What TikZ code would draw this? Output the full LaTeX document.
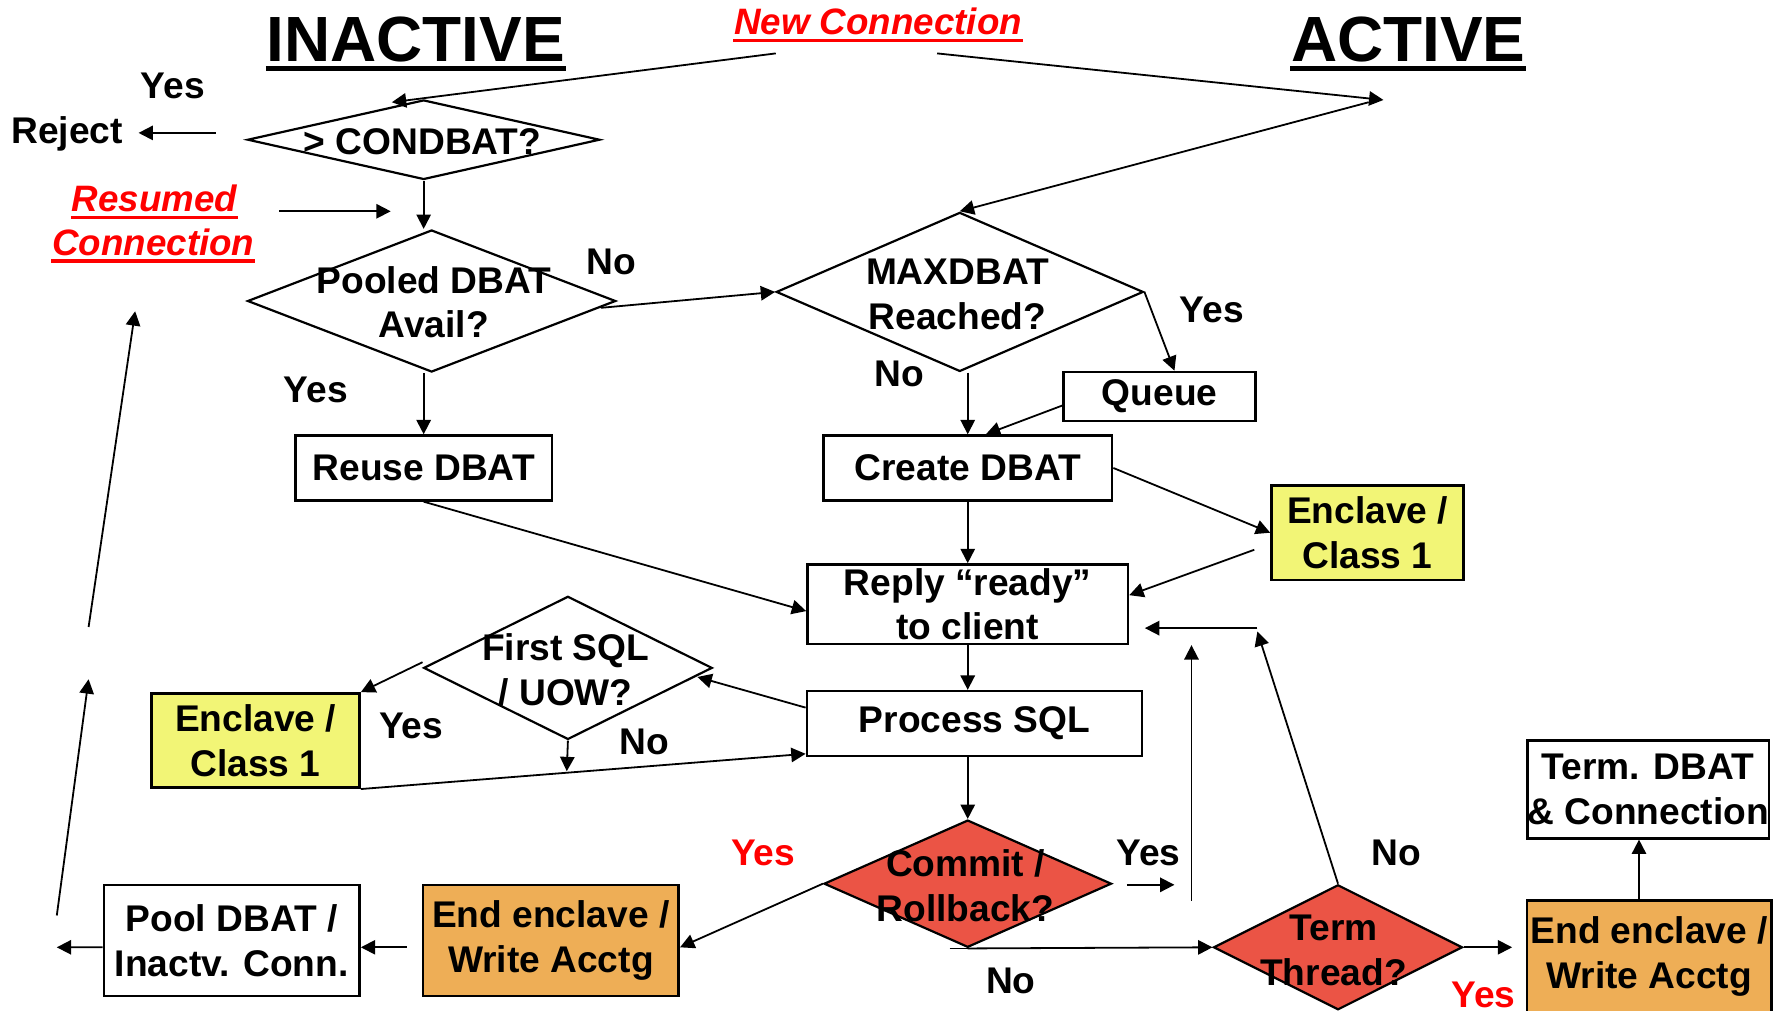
\documentclass[tikz,border=0pt]{standalone}
\usepackage{fontspec}
\setmainfont{Liberation Sans}
\usetikzlibrary{arrows.meta,shapes.geometric}
\definecolor{yel}{RGB}{242,245,118}
\definecolor{org}{RGB}{238,174,86}
\definecolor{dred}{RGB}{235,84,69}
\newcommand\myfont{\bfseries\fontsize{9.3}{11.2}\selectfont}
\tikzset{
  txt/.style={font=\myfont, align=center, inner sep=0pt},
  redtxt/.style={txt, text=red},
  title/.style={font=\bfseries\fontsize{16}{18}\selectfont, inner sep=0pt},
  redital/.style={font=\bfseries\itshape\fontsize{9.2}{11}\selectfont, text=red, inner sep=0pt},
  box/.style={draw, line width=0.65pt, inner sep=0pt, align=center, font=\myfont},
  dia/.style={diamond, draw, line width=0.55pt, inner sep=0pt},
  arr/.style={line width=0.45pt, -{Triangle[length=3.6pt,width=3.6pt]}},
  ln/.style={line width=0.45pt},
}
\begin{document}
\begin{tikzpicture}[x=0.01cm,y=-0.01cm]
\useasboundingbox (0,0) rectangle (1568,890);
\clip (0,0) rectangle (1568,890);
% titles
\node[title] (inactive) at (366,35) {INACTIVE};
\node[title] (active) at (1240,35) {ACTIVE};
\draw[line width=1.4pt] ([yshift=-0.06cm]inactive.base west) -- ([yshift=-0.06cm]inactive.base east);
\draw[line width=1.4pt] ([yshift=-0.06cm]active.base west) -- ([yshift=-0.06cm]active.base east);
\node[redital] (newconn) at (773,19) {New Connection};
\draw[red, line width=0.9pt] ([yshift=-0.05cm]newconn.base west) -- ([yshift=-0.05cm]newconn.base east);
\node[redital] (resumed) at (136,175) {Resumed};
\draw[red, line width=0.9pt] ([yshift=-0.05cm]resumed.base west) -- ([yshift=-0.05cm]resumed.base east);
\node[redital] (resconn) at (135,213) {Connection};
\draw[red, line width=0.9pt] ([yshift=-0.05cm]resconn.base west) -- ([yshift=-0.05cm]resconn.base east);

% labels
\node[txt] (yesA) at (152,76) {Yes};
\node[txt] (reject) at (59,118) {Reject};
\node[txt] (noA) at (538,231) {No};
\node[txt] (yesB) at (1067,273) {Yes};
\node[txt] (noB) at (792,329) {No};
\node[txt] (yesC) at (278,343) {Yes};
\node[txt] (yesD) at (362,639) {Yes};
\node[txt] (noC) at (567,653) {No};
\node[redtxt] (yesE) at (672,751) {Yes};
\node[txt] (yesF) at (1011,751) {Yes};
\node[txt] (noD) at (1229,751) {No};
\node[txt] (noE) at (890,864) {No};
\node[redtxt] (yesG) at (1306,876) {Yes};

% diamonds
\node[dia, minimum width=3.10cm, minimum height=0.70cm] (cond) at (373,123) {};
\node[txt] (condt) at (372,125) {> CONDBAT?};
\node[dia, minimum width=3.24cm, minimum height=1.25cm] (pooled) at (380,265) {};
\node[txt] (pooledt) at (382,266) {Pooled DBAT\\Avail?};
\node[dia, minimum width=3.23cm, minimum height=1.40cm] (maxd) at (845,257) {};
\node[txt] (maxdt) at (843,259) {MAXDBAT\\Reached?};
\node[dia, minimum width=2.54cm, minimum height=1.26cm] (first) at (500,588) {};
\node[txt] (firstt) at (498,590) {First SQL\\/ UOW?};
\node[dia, fill=dred, minimum width=2.53cm, minimum height=1.12cm] (commit) at (852,778) {};
\node[txt] (committ) at (850,780) {Commit /\\Rollback?};
\node[dia, fill=dred, minimum width=2.19cm, minimum height=1.10cm] (term) at (1178,834) {};
\node[txt] (termt) at (1174,837) {Term\\Thread?};

% boxes
\node[box, minimum width=2.26cm, minimum height=0.57cm] (reuse) at (373,412) {\raisebox{-0.5pt}{Reuse DBAT}};
\node[box, minimum width=2.54cm, minimum height=0.57cm] (create) at (852,412) {\raisebox{-0.5pt}{Create DBAT}};
\node[box, minimum width=1.69cm, minimum height=0.43cm] (queue) at (1021,349) {\raisebox{-1.5pt}{Queue}};
\node[box, fill=yel, minimum width=1.69cm, minimum height=0.83cm] (encR) at (1204,469) {Enclave /\\Class 1};
\node[box, minimum width=2.82cm, minimum height=0.70cm] (reply) at (852,532) {Reply “ready”\\to client};
\node[box, minimum width=2.95cm, minimum height=0.57cm] (process) at (858,637) {\raisebox{-1pt}{Process SQL}};
\node[box, fill=yel, minimum width=1.83cm, minimum height=0.83cm] (encL) at (225,652) {Enclave /\\Class 1};
\node[box, fill=org, minimum width=2.25cm, minimum height=0.98cm] (endL) at (485,828) {End enclave /\\Write Acctg};
\node[box, minimum width=2.25cm, minimum height=0.98cm] (pool) at (204,828) {Pool DBAT /\\Inactv. Conn.};
\node[box, minimum width=2.12cm, minimum height=0.86cm] (termdbat) at (1451,695) {Term. DBAT\\\& Connection};
\node[box, fill=org, minimum width=2.15cm, minimum height=0.98cm] (endR) at (1452,842) {End enclave /\\Write Acctg};

% free coordinates
\coordinate (nc1) at (683,47);
\coordinate (nc2) at (825,47);
\coordinate (act) at (1218,88);
\coordinate (actb) at (1205,90);
\coordinate (condin) at (345,90);
\coordinate (rj1) at (190,117);
\coordinate (rj2) at (122,117);
\coordinate (rs1) at (246,186);
\coordinate (rs2) at (344,186);
\coordinate (firstin) at (614,596);
\coordinate (merge) at (499,679);
\coordinate (pl2) at (50,834);
\coordinate (up1a) at (50,806);
\coordinate (up1b) at (78,598);
\coordinate (up2a) at (78,552);
\coordinate (up2b) at (119,274);
\coordinate (cy1) at (992,779);
\coordinate (cy2) at (1034,779);
\coordinate (ret1) at (1049,793);
\coordinate (ret2) at (1049,568);
\coordinate (tn1) at (1107,556);
\coordinate (tn2) at (1107,553);
\coordinate (tn3) at (1008,553);

% connectors
\draw[arr] (nc1) -- (condin);
\draw[arr] (nc2) -- (act);
\draw[arr] (actb) -- (maxd.north);
\draw[arr] (rj1) -- (rj2);
\draw[arr] (cond.south) -- (cond.south |- pooled.north);
\draw[arr] (rs1) -- (rs2);
\draw[arr] ([xshift=-0.14cm,yshift=-0.06cm]pooled.east) -- (maxd.west);
\draw[arr] (maxd.east) -- ([xshift=0.13cm]queue.north);
\draw[arr] (create.north |- maxd.south) -- (create.north);
\draw[arr] ([yshift=-0.08cm]queue.west) -- ([xshift=0.16cm]create.north);
\draw[arr] (reuse.north |- pooled.south) -- (reuse.north);
\draw[arr] (reuse.south) -- ([yshift=-0.06cm]reply.west);
\draw[arr] (create.east) -- (encR.west);
\draw[arr] ([xshift=-0.14cm,yshift=-0.15cm]encR.west) -- ([yshift=0.08cm]reply.east);
\draw[arr] (create.south) -- (reply.north);
\draw[arr] (reply.south) -- (reply.south |- process.north);
\draw[arr] ([yshift=0.14cm]process.west) -- (firstin);
\draw[arr] ([yshift=0.05cm]first.west) -- (encL.north east);
\draw[arr] (first.south) -- (merge);
\draw[arr] (encL.south east) -- ([yshift=0.03cm]process.south west);
\draw[arr] (commit.north |- process.south) -- (commit.north);
\draw[arr] (commit.west) -- ([yshift=-0.06cm]endL.east);
\draw[arr] ([xshift=-0.13cm,yshift=-0.06cm]endL.west) -- ([yshift=-0.06cm]pool.east);
\draw[arr] ([yshift=-0.06cm]pool.west) -- (pl2);
\draw[arr] (up1a) -- (up1b);
\draw[arr] (up2a) -- (up2b);
\draw[arr] (cy1) -- (cy2);
\draw[arr] (ret1) -- (ret2);
\draw[ln] ([xshift=-0.16cm]commit.south) -- (commit.south);
\draw[arr] (commit.south) -- (term.west);
\draw[arr] (term.north) -- (tn1);
\draw[arr] (tn2) -- (tn3);
\draw[arr] (term.east) -- ([xshift=-0.12cm]endR.west |- term.east);
\draw[arr] ([xshift=-0.09cm]endR.north) -- ([xshift=-0.08cm]termdbat.south);
\end{tikzpicture}
\end{document}
